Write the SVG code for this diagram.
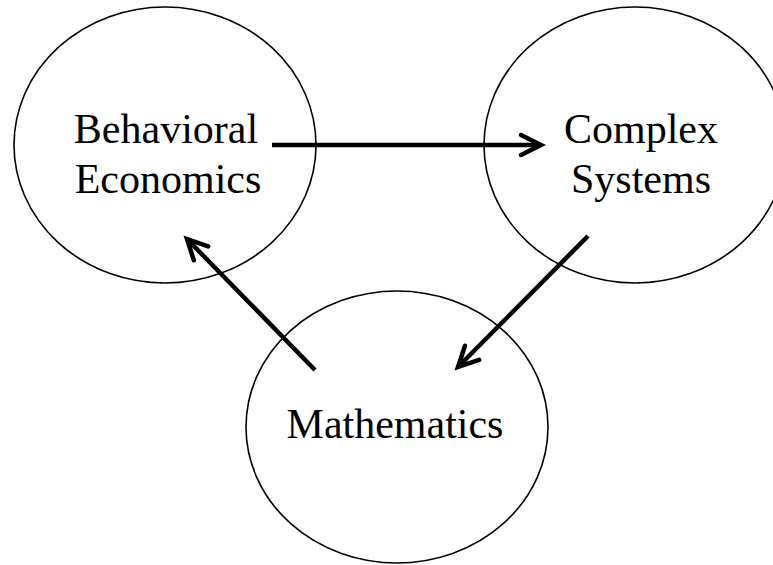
<svg xmlns="http://www.w3.org/2000/svg" width="773" height="565" viewBox="0 0 773 565">
<style>
.node ellipse{fill:none;stroke:#000;stroke-width:1.6}
.node text{font-family:"Liberation Serif","Times New Roman",serif;font-size:42px;fill:#000;text-anchor:middle}
.conn line{stroke:#000;stroke-width:4.5;fill:none}
</style>
<defs>
<marker id="arr" markerUnits="userSpaceOnUse" markerWidth="40" markerHeight="40" refX="0" refY="0" orient="auto" overflow="visible">
<path d="M-20,-10 L0,0 L-20,10" fill="none" stroke="#000" stroke-width="4.5" stroke-linejoin="miter" stroke-linecap="round"/>
</marker>
</defs>
<rect width="773" height="565" fill="#fff"/>
<g id="behavioral-economics" class="node">
<ellipse cx="165" cy="145" rx="151" ry="138"/>
<text x="166" y="143">Behavioral</text>
<text x="168" y="193">Economics</text>
</g>
<g id="complex-systems" class="node">
<ellipse cx="635" cy="145" rx="151" ry="138"/>
<text x="641" y="143">Complex</text>
<text x="641" y="193">Systems</text>
</g>
<g id="mathematics" class="node">
<ellipse cx="397" cy="427" rx="151" ry="136"/>
<text x="395" y="438">Mathematics</text>
</g>
<g id="connectors" class="conn">
<line x1="272" y1="145" x2="541" y2="145" marker-end="url(#arr)"/>
<line x1="315" y1="370" x2="187" y2="239" marker-end="url(#arr)"/>
<line x1="588" y1="236" x2="458" y2="367" marker-end="url(#arr)"/>
</g>
</svg>
